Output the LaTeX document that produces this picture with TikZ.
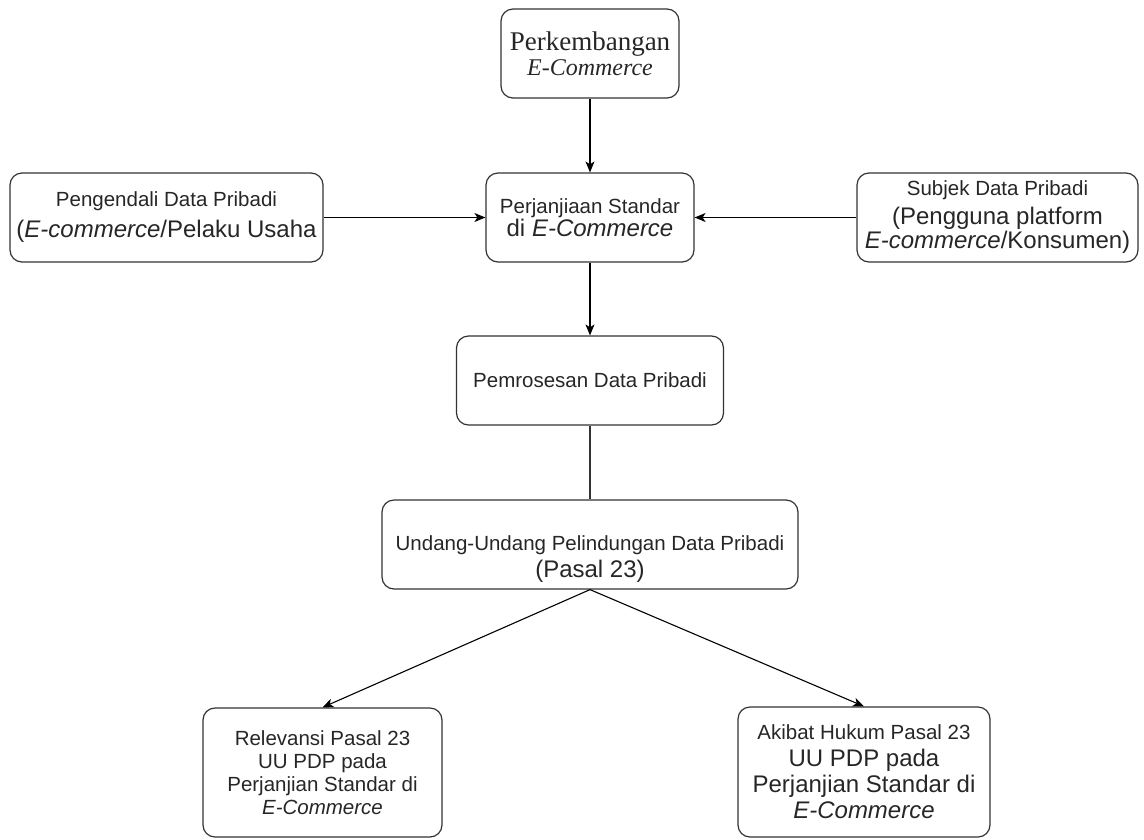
\documentclass[tikz,border=0pt]{standalone}
\usepackage{fontspec}
\setmainfont{Liberation Sans}
\newfontfamily\serifteks{Liberation Serif}
\usetikzlibrary{arrows.meta}
\definecolor{garis}{HTML}{333333}
\newcommand{\kecil}{\fontsize{20.5}{23}\selectfont}
\newcommand{\besar}{\fontsize{24}{27}\selectfont}

\begin{document}
\begin{tikzpicture}[x=1pt,y=-1pt,
	kotak/.style={draw=garis,line width=1.2pt,rounded corners=12pt,inner sep=0pt,align=center,text=black!85,font=\kecil},
	panah/.style={line width=1.1pt,-{Stealth[length=11pt,width=9pt,inset=3pt]}},
	sambung/.style={draw=garis,line width=1.1pt}]
	\useasboundingbox (0,0) rectangle (1144,839);
	% baris atas
	\node[kotak,minimum width=178pt,minimum height=89pt] (awal) at (590,53.5)
		{\serifteks\fontsize{27}{30}\selectfont Perkembangan\\[2pt] \serifteks\fontsize{24}{29}\selectfont\itshape E-Commerce};
	\node[kotak,minimum width=313pt,minimum height=89pt] (pengendali) at (166.5,217.5)
		{Pengendali Data Pribadi\\[8pt] \besar(\textit{E-commerce}/Pelaku Usaha};
	\node[kotak,minimum width=208pt,minimum height=89pt] (perjanjian) at (590,217.5)
		{Perjanjiaan Standar\\ \besar di \textit{E-Commerce}};
	\node[kotak,minimum width=281pt,minimum height=89pt] (subjek) at (997.5,217.5)
		{Subjek Data Pribadi\\[6pt] \besar (Pengguna platform\\[1pt] \besar\textit{E-commerce}/Konsumen)};
	% tengah
	\node[kotak,minimum width=267pt,minimum height=89pt] (pemrosesan) at (590,380.5)
		{Pemrosesan Data Pribadi};
	\node[kotak,minimum width=416pt,minimum height=89pt] (uupdp) at (590,544.5)
		{\rule{0pt}{44pt}Undang-Undang Pelindungan Data Pribadi\\[4pt] \besar (Pasal 23)};
	% bawah
	\node[kotak,minimum width=239pt,minimum height=129pt] (relevansi) at (322.5,772.5)
		{Relevansi Pasal 23\\ UU PDP pada\\ Perjanjian Standar di\\ \textit{E-Commerce}};
	\node[kotak,minimum width=252pt,minimum height=130pt] (akibat) at (864,772)
		{Akibat Hukum Pasal 23\\[4pt] \besar UU PDP pada\\[3pt] \besar Perjanjian Standar di\\[3pt] \besar\textit{E-Commerce}};
	% panah
	\draw[panah] (awal) -- (perjanjian);
	\draw[panah] (pengendali) -- (perjanjian);
	\draw[panah] (subjek) -- (perjanjian);
	\draw[panah] (perjanjian) -- (pemrosesan);
	\draw[sambung] (pemrosesan) -- (uupdp);
	\draw[panah] (uupdp.south) -- (relevansi.north);
	\draw[panah] (uupdp.south) -- (akibat.north);
\end{tikzpicture}
\end{document}
